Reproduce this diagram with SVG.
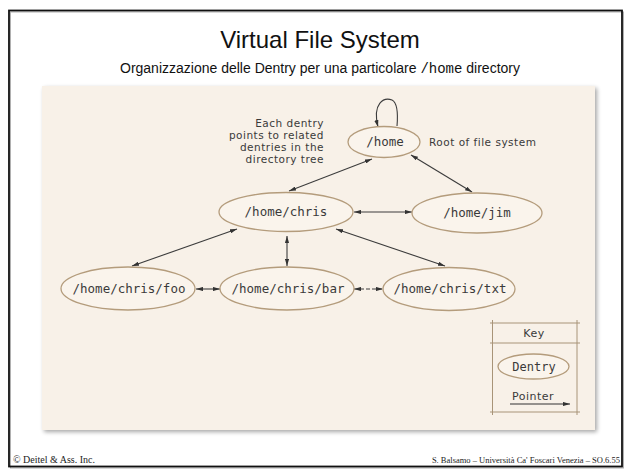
<svg xmlns="http://www.w3.org/2000/svg" width="639" height="473" viewBox="0 0 639 473">
  <style>
    .node ellipse { fill: #faf4ec; stroke: #b49c7c; stroke-width: 1.3; }
    .mono { font-family: "DejaVu Sans Mono", "Liberation Mono", monospace; font-size: 12.5px; fill: #3a3a3a; text-anchor: middle; }
    .lbl { font-family: "DejaVu Sans", "Noto Sans", sans-serif; font-size: 10.5px; letter-spacing: 0.5px; fill: #3a3a3a; }
    .conn line, .conn path { stroke: #3c3c3c; stroke-width: 1.1; fill: none; }
    .foot { font-family: "Liberation Serif", serif; fill: #222; }
    .keybox line { stroke: #a89478; stroke-width: 1; }
  </style>
  <defs>
    <marker id="ah" viewBox="0 0 10 6" refX="10" refY="3" markerWidth="7" markerHeight="4.2" markerUnits="userSpaceOnUse" orient="auto-start-reverse">
      <path d="M0,0 L10,3 L0,6 Z" fill="#333"/>
    </marker>
    <filter id="shadow" x="-5%" y="-5%" width="110%" height="110%">
      <feGaussianBlur in="SourceAlpha" stdDeviation="2"/>
      <feOffset dx="2" dy="2"/>
      <feComponentTransfer><feFuncA type="linear" slope="0.35"/></feComponentTransfer>
      <feMerge><feMergeNode/><feMergeNode in="SourceGraphic"/></feMerge>
    </filter>
  </defs>

  <rect width="639" height="473" fill="#ffffff"/>
  <!-- slide frame -->
  <rect x="10.5" y="12" width="613" height="456" fill="none" stroke="#b0b0b0" stroke-width="1"/>
  <rect x="9" y="10.5" width="613" height="456" fill="none" stroke="#111" stroke-width="1.8"/>

  <text x="320" y="48" font-family="Liberation Sans, Arial, sans-serif" font-size="24" text-anchor="middle" fill="#111">Virtual File System</text>
  <text x="320" y="73" font-family="Liberation Sans, Arial, sans-serif" font-size="14" text-anchor="middle" fill="#111">Organizzazione delle Dentry per una particolare <tspan font-family="Liberation Mono, monospace">/home</tspan> directory</text>

  <!-- paper -->
  <rect x="42" y="86" width="553" height="344" fill="#f8f1e8" filter="url(#shadow)"/>

  <!-- connectors -->
  <g id="connectors" class="conn">
    <path d="M378,127 C372,103 384,97 392,100 C398,103 398,114 397,126" marker-start="url(#ah)"/>
    <line x1="372" y1="159" x2="289" y2="191" marker-start="url(#ah)" marker-end="url(#ah)"/>
    <line x1="411" y1="155" x2="472" y2="192" marker-start="url(#ah)" marker-end="url(#ah)"/>
    <line x1="354" y1="212" x2="412" y2="212" marker-start="url(#ah)" marker-end="url(#ah)"/>
    <line x1="237" y1="229" x2="132" y2="266" marker-start="url(#ah)" marker-end="url(#ah)"/>
    <line x1="287" y1="236" x2="287" y2="266" marker-start="url(#ah)" marker-end="url(#ah)"/>
    <line x1="336" y1="229" x2="445" y2="266" marker-start="url(#ah)" marker-end="url(#ah)"/>
    <line x1="196" y1="289" x2="220" y2="289" marker-start="url(#ah)" marker-end="url(#ah)"/>
    <line x1="354" y1="289" x2="383" y2="289" stroke-dasharray="4 2" marker-start="url(#ah)" marker-end="url(#ah)"/>
  </g>

  <g id="n-home" class="node">
    <ellipse cx="384" cy="142" rx="36" ry="15.5"/>
    <text class="mono" x="385" y="146">/home</text>
  </g>
  <g id="n-chris" class="node">
    <ellipse cx="286" cy="212" rx="67" ry="19.5"/>
    <text class="mono" x="286" y="216">/home/chris</text>
  </g>
  <g id="n-jim" class="node">
    <ellipse cx="477" cy="213" rx="65" ry="20"/>
    <text class="mono" x="477" y="217">/home/jim</text>
  </g>
  <g id="n-foo" class="node">
    <ellipse cx="128" cy="288.5" rx="67" ry="21.5"/>
    <text class="mono" x="129" y="293">/home/chris/foo</text>
  </g>
  <g id="n-bar" class="node">
    <ellipse cx="287" cy="288.5" rx="67" ry="21.5"/>
    <text class="mono" x="288" y="293">/home/chris/bar</text>
  </g>
  <g id="n-txt" class="node">
    <ellipse cx="449" cy="289" rx="66" ry="21.5"/>
    <text class="mono" x="450" y="293">/home/chris/txt</text>
  </g>

  <g id="annotations" class="lbl">
    <text x="429" y="146">Root of file system</text>
    <text x="324" y="127" text-anchor="end">Each dentry</text>
    <text x="324" y="139" text-anchor="end">points to related</text>
    <text x="324" y="151" text-anchor="end">dentries in the</text>
    <text x="324" y="163" text-anchor="end">directory tree</text>
  </g>

  <g id="key" class="keybox">
    <line x1="490" y1="323" x2="580" y2="323"/>
    <line x1="490" y1="343" x2="580" y2="343"/>
    <line x1="490" y1="412" x2="580" y2="412"/>
    <line x1="492.5" y1="320" x2="492.5" y2="415"/>
    <line x1="577" y1="320" x2="577" y2="415"/>
    <text class="lbl" x="534" y="337" text-anchor="middle" style="font-size:11px">Key</text>
    <g id="key-dentry" class="node">
      <ellipse cx="533.5" cy="366.5" rx="35.5" ry="12.5"/>
      <text class="mono" x="534" y="371" style="font-size:12px">Dentry</text>
    </g>
    <text class="lbl" x="533" y="400" text-anchor="middle" style="font-size:11px">Pointer</text>
    <line x1="510" y1="404" x2="570" y2="404" style="stroke:#333;stroke-width:1.1" marker-end="url(#ah)"/>
  </g>

  <text class="foot" x="13" y="463" font-size="10">© Deitel &amp; Ass. Inc.</text>
  <text class="foot" x="620" y="463" font-size="8.5" text-anchor="end">S. Balsamo – Università Ca' Foscari Venezia – SO.6.55</text>
</svg>
